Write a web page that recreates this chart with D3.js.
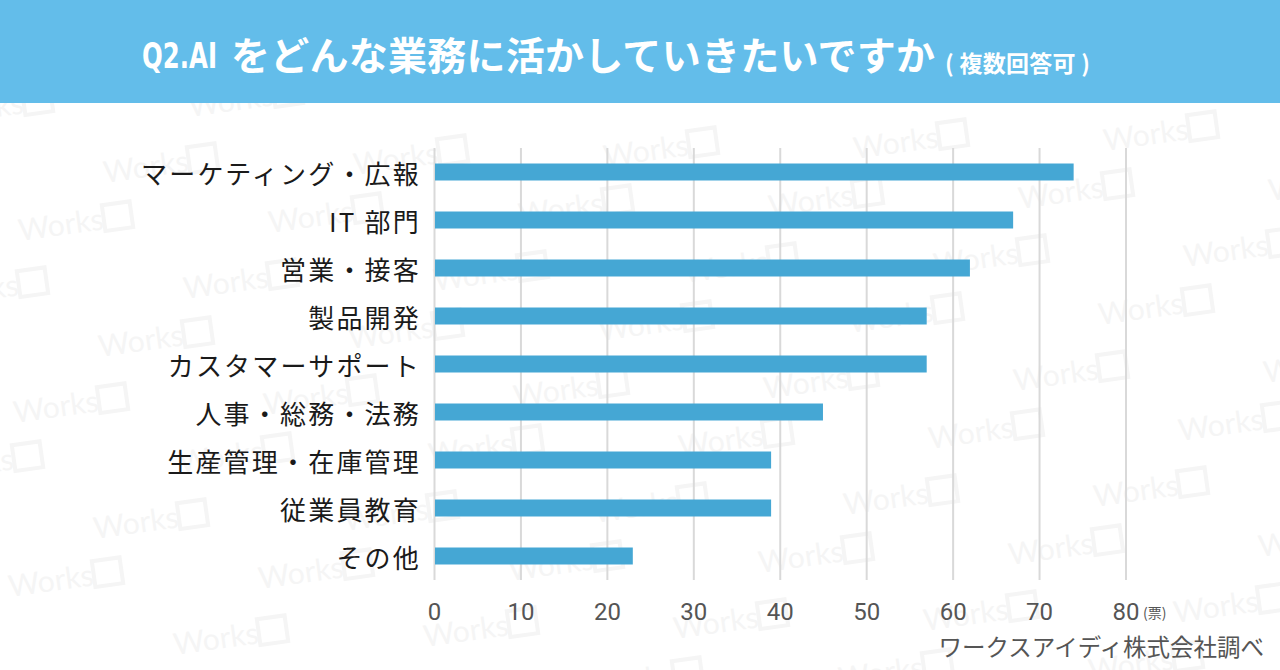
<!DOCTYPE html>
<html><head><meta charset="utf-8">
<script src="https://cdn.jsdelivr.net/npm/d3@7"></script>
<style>
html,body{margin:0;padding:0;background:#fff;}
svg{display:block;}
</style></head>
<body>
<svg id="c" width="1280" height="670"></svg>
<script>
const categories = ["マーケティング・広報","IT 部門","営業・接客","製品開発","カスタマーサポート","人事・総務・法務","生産管理・在庫管理","従業員教育","その他"];
const values = [74, 67, 62, 57, 57, 45, 39, 39, 23];
const tickValues = [0,10,20,30,40,50,60,70,80];
const titleLatin = "Q2.AI";
const titleMain = "をどんな業務に活かしていきたいですか";
const titleSub = "( 複数回答可 )";
const unitLabel = "(票)";
const sourceLabel = "ワークスアイディ株式会社調べ";
const watermarkLabel = "Works";

const svg = d3.select("#c");
const W = 1280, H = 670;
const JP = "'Noto Sans CJK JP','Noto Sans',sans-serif";

svg.append("rect").attr("width", W).attr("height", H).attr("fill", "#fff");

// faint watermark lattice (copies hidden under the header are skipped)
const wm = svg.append("g");
for (let r = 0; r < 11; r++) {
  for (let c = -1; c < 7; c++) {
    const x0 = c * 250 + (r % 2) * 125 + r * 40 - 60;
    const y0 = 125 + r * 58 - c * 8;
    if (y0 < 112 || y0 - 30 > H || x0 > W || x0 + 120 < 0) continue;
    const g = wm.append("g").attr("transform", `translate(${x0},${y0}) rotate(-8)`);
    g.append("text").attr("x", 0).attr("y", 0).text(watermarkLabel)
      .attr("font-family", "Lato, 'Open Sans', sans-serif").attr("font-size", 30)
      .attr("fill", "#f5f5f5");
    g.append("rect").attr("x", 86).attr("y", -24).attr("width", 28).attr("height", 26)
      .attr("fill", "none").attr("stroke", "#f5f5f5").attr("stroke-width", 4);
  }
}

// header
svg.append("rect").attr("x", 0).attr("y", 0).attr("width", W).attr("height", 103).attr("fill", "#63bdea");
svg.append("text").attr("x", 142).attr("y", 68).text(titleLatin)
  .attr("font-family", "'DejaVu Sans Condensed','Liberation Sans Narrow',sans-serif")
  .attr("font-weight", 700).attr("font-size", 35).attr("fill", "#fff")
  .attr("textLength", 75).attr("lengthAdjust", "spacingAndGlyphs");
svg.append("text").attr("x", 231).attr("y", 70).text(titleMain)
  .attr("font-family", JP).attr("font-weight", 700).attr("font-size", 39).attr("fill", "#fff")
  .attr("textLength", 704).attr("lengthAdjust", "spacing");
svg.append("text").attr("x", 945).attr("y", 72).text(titleSub)
  .attr("font-family", JP).attr("font-weight", 700).attr("font-size", 23).attr("fill", "#fff")
  .attr("textLength", 145).attr("lengthAdjust", "spacing");

// scales
const x = d3.scaleLinear().domain([0, 80]).range([434, 1125.5]);
const y = d3.scaleBand().domain(categories).range([148, 580]).paddingInner(0.646).paddingOuter(0.323);

// grid
const xAxis = d3.axisBottom(x).tickValues(tickValues).tickSize(-(580 - 148)).tickFormat(d3.format("d"));
const gx = svg.append("g").attr("transform", "translate(0,580)").call(xAxis);
gx.select(".domain").remove();
gx.selectAll(".tick line").attr("stroke", "#d9d9d9").attr("stroke-width", 2);
gx.selectAll(".tick text").attr("y", 40).attr("dy", 0)
  .attr("font-family", "Roboto, 'Liberation Sans', sans-serif").attr("font-size", 24)
  .attr("fill", "#555");

// bars
svg.append("g").selectAll("rect").data(values).join("rect")
  .attr("x", x(0) + 1)
  .attr("y", (d, i) => y(categories[i]))
  .attr("width", d => x(d) - x(0) - 1)
  .attr("height", y.bandwidth())
  .attr("fill", "#45a7d4");

// category labels
const yAxis = d3.axisLeft(y).tickSize(0).tickPadding(0);
const gy = svg.append("g").attr("transform", "translate(420,0)").call(yAxis);
gy.select(".domain").remove();
gy.selectAll(".tick text").attr("x", 1).attr("dy", 11.5)
  .attr("font-family", JP).attr("font-size", 26).attr("font-weight", 400)
  .attr("letter-spacing", "2.2px").attr("fill", "#1a1a1a");

// unit
svg.append("text").attr("x", 1143).attr("y", 618).text(unitLabel)
  .attr("font-family", JP).attr("font-size", 14).attr("fill", "#555");

// source
svg.append("text").attr("x", 1264).attr("y", 656).attr("text-anchor", "end").text(sourceLabel)
  .attr("font-family", JP).attr("font-size", 23.5).attr("fill", "#555");
</script>
</body></html>
